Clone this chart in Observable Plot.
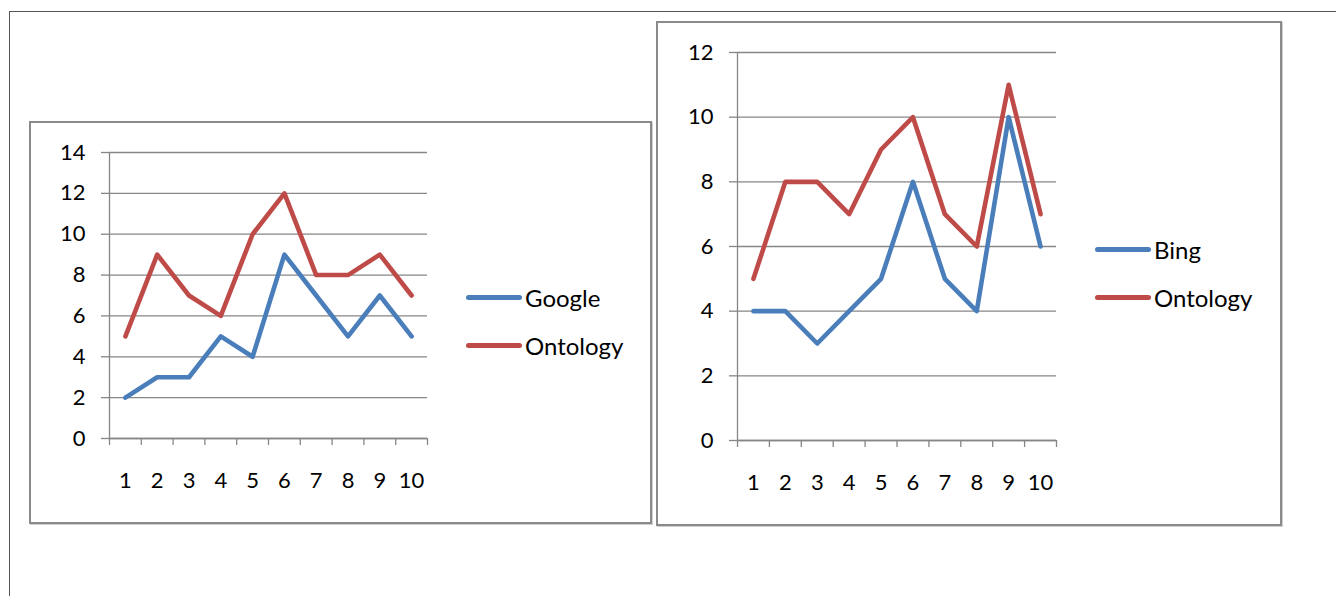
<!DOCTYPE html>
<html>
<head>
<meta charset="utf-8">
<script src="https://cdn.jsdelivr.net/npm/d3@7"></script>
<script src="https://cdn.jsdelivr.net/npm/@observablehq/plot@0.6"></script>
<style>
  html, body { margin: 0; padding: 0; background: #fff; }
  body { width: 1336px; height: 596px; position: relative; overflow: hidden; font-family: Lato, "Open Sans", sans-serif; }
  .frame { position: absolute; left: 9px; top: 11px; width: 1400px; height: 700px; border-top: 1.5px solid #555; border-left: 1.5px solid #555; }
  .box { position: absolute; border: 2px solid #8a8a8a; background: #fff; box-sizing: border-box; box-shadow: 1px 1px 0 #d0d0d0; }
  .box svg { position: absolute; left: 0; top: 0; }
  .legend { position: absolute; font-size: 24px; color: #000; }
  .legend .item { display: flex; align-items: center; height: 48.5px; }
  .legend .sw { width: 56px; height: 5px; border-radius: 3px; margin-right: 3px; }
</style>
</head>
<body>
<div class="frame"></div>
<div id="left" class="box" style="left:29px; top:121px; width:623px; height:403px;"></div>
<div id="right" class="box" style="left:656px; top:21px; width:626px; height:505px;"></div>
<script>
const categories = [1, 2, 3, 4, 5, 6, 7, 8, 9, 10];
const googleValues = [2, 3, 3, 5, 4, 9, 7, 5, 7, 5];
const ontologyLeftValues = [5, 9, 7, 6, 10, 12, 8, 8, 9, 7];
const bingValues = [4, 4, 3, 4, 5, 8, 5, 4, 10, 6];
const ontologyRightValues = [5, 8, 8, 7, 9, 10, 7, 6, 11, 7];
const leftYTicks = [0, 2, 4, 6, 8, 10, 12, 14];
const rightYTicks = [0, 2, 4, 6, 8, 10, 12];

const BLUE = "#4a7ebb";
const RED = "#be4b48";
const GRID = "#868686";

function makeChart(el, cfg) {
  const rows = [];
  cfg.series.forEach(s => s.values.forEach((v, i) => rows.push({x: categories[i], y: v, name: s.name})));
  const boundaries = d3.range(0.5, categories.length + 1, 1);
  const chart = Plot.plot({
    width: cfg.width,
    height: cfg.height,
    marginLeft: cfg.ml,
    marginRight: cfg.mr,
    marginTop: cfg.mt,
    marginBottom: cfg.mb,
    style: {fontFamily: "Lato, 'Open Sans', sans-serif", fontSize: "22px", color: "#000", background: "transparent"},
    x: {domain: [0.5, categories.length + 0.5]},
    y: {domain: [0, cfg.yMax]},
    marks: [
      Plot.gridY(cfg.yTicks, {stroke: GRID, strokeOpacity: 1, strokeWidth: 1.3}),
      Plot.axisY(cfg.yTicks, {tickSize: 8, tickPadding: 16, stroke: GRID, strokeOpacity: 1, strokeWidth: 1.3, fill: "#000", label: null, fontSize: 22}),
      Plot.ruleX([0.5], {stroke: GRID, strokeWidth: 1.3}),
      Plot.ruleY([0], {stroke: GRID, strokeWidth: 1.3}),
      Plot.axisX(boundaries, {tickSize: 7, tickFormat: () => "", stroke: GRID, strokeOpacity: 1, strokeWidth: 1.3, label: null}),
      Plot.axisX(categories, {tickSize: 0, tickPadding: 34, fill: "#000", label: null, fontSize: 22}),
      Plot.line(rows, {x: "x", y: "y", z: "name", stroke: d => d.name === "Ontology" ? RED : BLUE, strokeWidth: 4.6, strokeLinejoin: "round", strokeLinecap: "round"})
    ]
  });
  el.appendChild(chart);

  const legend = document.createElement("div");
  legend.className = "legend";
  legend.style.left = cfg.legendLeft + "px";
  legend.style.top = cfg.legendTop + "px";
  cfg.series.forEach(s => {
    const item = document.createElement("div");
    item.className = "item";
    const sw = document.createElement("div");
    sw.className = "sw";
    sw.style.background = s.name === "Ontology" ? RED : BLUE;
    const label = document.createElement("span");
    label.textContent = s.name;
    item.appendChild(sw);
    item.appendChild(label);
    legend.appendChild(item);
  });
  el.appendChild(legend);
}

makeChart(document.getElementById("left"), {
  width: 619, height: 399, ml: 78, mr: 223, mt: 29, mb: 84,
  yMax: 14, yTicks: leftYTicks,
  series: [{name: "Google", values: googleValues}, {name: "Ontology", values: ontologyLeftValues}],
  legendLeft: 435, legendTop: 150
});

makeChart(document.getElementById("right"), {
  width: 622, height: 501, ml: 79, mr: 224, mt: 29, mb: 84,
  yMax: 12, yTicks: rightYTicks,
  series: [{name: "Bing", values: bingValues}, {name: "Ontology", values: ontologyRightValues}],
  legendLeft: 437, legendTop: 202
});
</script>
</body>
</html>
